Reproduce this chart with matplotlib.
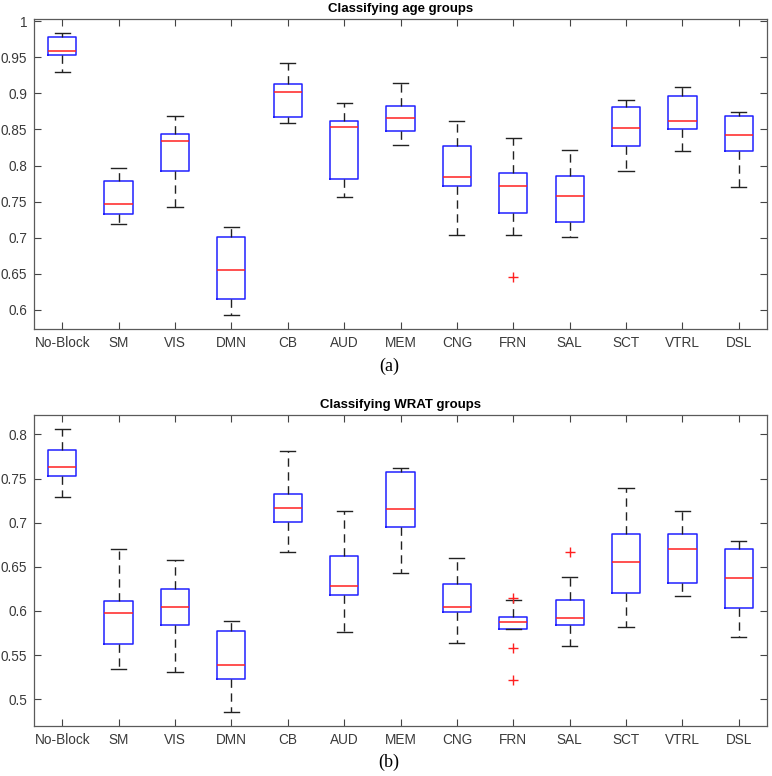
import matplotlib
matplotlib.use("Agg")
import matplotlib.pyplot as plt

categories = ["No-Block", "SM", "VIS", "DMN", "CB", "AUD", "MEM", "CNG", "FRN", "SAL", "SCT", "VTRL", "DSL"]

# (a) Classifying age groups
age_whislo = [0.930, 0.719, 0.743, 0.593, 0.8595, 0.756, 0.8286, 0.704, 0.7035, 0.701, 0.793, 0.8207, 0.7709]
age_q1     = [0.9528, 0.7325, 0.793, 0.615, 0.867, 0.782, 0.8475, 0.7718, 0.734, 0.722, 0.8272, 0.8507, 0.8207]
age_med    = [0.959, 0.747, 0.834, 0.655, 0.902, 0.853, 0.8665, 0.7847, 0.7718, 0.7584, 0.8526, 0.861, 0.8429]
age_q3     = [0.978, 0.778, 0.843, 0.7007, 0.9135, 0.861, 0.883, 0.8267, 0.7893, 0.7856, 0.8817, 0.8964, 0.8683]
age_whishi = [0.9837, 0.796, 0.868, 0.7155, 0.942, 0.886, 0.915, 0.861, 0.838, 0.822, 0.8914, 0.9094, 0.8743]
age_fliers = [[], [], [], [], [], [], [], [], [0.6462], [], [], [], []]

# (b) Classifying WRAT groups
wrat_whislo = [0.7286, 0.5348, 0.5314, 0.4857, 0.6666, 0.5763, 0.6432, 0.5642, 0.5801, 0.5608, 0.5824, 0.6164, 0.5703]
wrat_q1     = [0.7524, 0.5627, 0.5846, 0.5227, 0.701, 0.6186, 0.6953, 0.5994, 0.5801, 0.5846, 0.6198, 0.6315, 0.6035]
wrat_med    = [0.7626, 0.5975, 0.605, 0.5393, 0.7161, 0.6288, 0.7157, 0.6047, 0.5877, 0.5922, 0.656, 0.670, 0.6375]
wrat_q3     = [0.7822, 0.6118, 0.6247, 0.5778, 0.7327, 0.6625, 0.7569, 0.6311, 0.5937, 0.6122, 0.687, 0.687, 0.670]
wrat_whishi = [0.8057, 0.6704, 0.658, 0.5888, 0.7807, 0.7135, 0.7615, 0.6602, 0.6126, 0.639, 0.7395, 0.7135, 0.6798]
wrat_fliers = [[], [], [], [], [], [], [], [], [0.6149, 0.5582, 0.5223], [0.6663], [], [], []]

age_yticks = [0.6, 0.65, 0.7, 0.75, 0.8, 0.85, 0.9, 0.95, 1.0]
age_yticklabels = ["0.6", "0.65", "0.7", "0.75", "0.8", "0.85", "0.9", "0.95", "1"]
wrat_yticks = [0.5, 0.55, 0.6, 0.65, 0.7, 0.75, 0.8]
wrat_yticklabels = ["0.5", "0.55", "0.6", "0.65", "0.7", "0.75", "0.8"]

plt.rcParams['font.family'] = ['Liberation Sans', 'DejaVu Sans']

fig = plt.figure(figsize=(7.72, 7.76), dpi=100)
axA = fig.add_axes([34/772, 1-329/776, 733/772, 310/776])
axB = fig.add_axes([34/772, 1-726/776, 733/772, 311/776])

def draw(ax, lo, q1, med, q3, hi, fl, title, ylim, yt, ytl):
    stats = []
    for i, name in enumerate(categories):
        stats.append(dict(label=name, whislo=lo[i], q1=q1[i], med=med[i],
                          q3=q3[i], whishi=hi[i], fliers=fl[i]))
    ax.bxp(stats, positions=range(1, len(categories)+1), widths=0.5,
           capwidths=0.27, showfliers=True,
           boxprops=dict(color='#2020ff', linewidth=1.1),
           medianprops=dict(color='#ff2020', linewidth=1.1),
           whiskerprops=dict(color='#222222', linewidth=1.0, linestyle=(0, (6, 4))),
           capprops=dict(color='#222222', linewidth=1.0),
           flierprops=dict(marker='+', markeredgecolor='#ff2020', markersize=7,
                           markeredgewidth=1.0, linestyle='none'))
    ax.set_xlim(0.5, len(categories)+0.5)
    ax.set_ylim(*ylim)
    ax.set_yticks(yt)
    ax.set_yticklabels(ytl)
    ax.set_xticks(range(1, len(categories)+1))
    ax.set_xticklabels(categories)
    ax.tick_params(direction='in', top=True, right=True, length=5, width=0.8,
                   colors='#444444', labelsize=9.8, pad=5)
    ax.tick_params(axis='both', labelcolor='#3a3a3a')
    for s in ax.spines.values():
        s.set_color('#5a5a5a')
        s.set_linewidth(0.9)
    ax.set_title(title, fontsize=9.5, fontweight='bold', pad=5)

draw(axA, age_whislo, age_q1, age_med, age_q3, age_whishi, age_fliers,
     "Classifying age groups", (0.5735, 1.003), age_yticks, age_yticklabels)
draw(axB, wrat_whislo, wrat_q1, wrat_med, wrat_q3, wrat_whishi, wrat_fliers,
     "Classifying WRAT groups", (0.4697, 0.822), wrat_yticks, wrat_yticklabels)

fig.text(389/772, 1-366/776, "(a)", ha='center', va='center', fontsize=13,
         family=['Liberation Serif', 'DejaVu Serif'])
fig.text(389/772, 1-762/776, "(b)", ha='center', va='center', fontsize=13,
         family=['Liberation Serif', 'DejaVu Serif'])

fig.savefig("out.png", dpi=100)
